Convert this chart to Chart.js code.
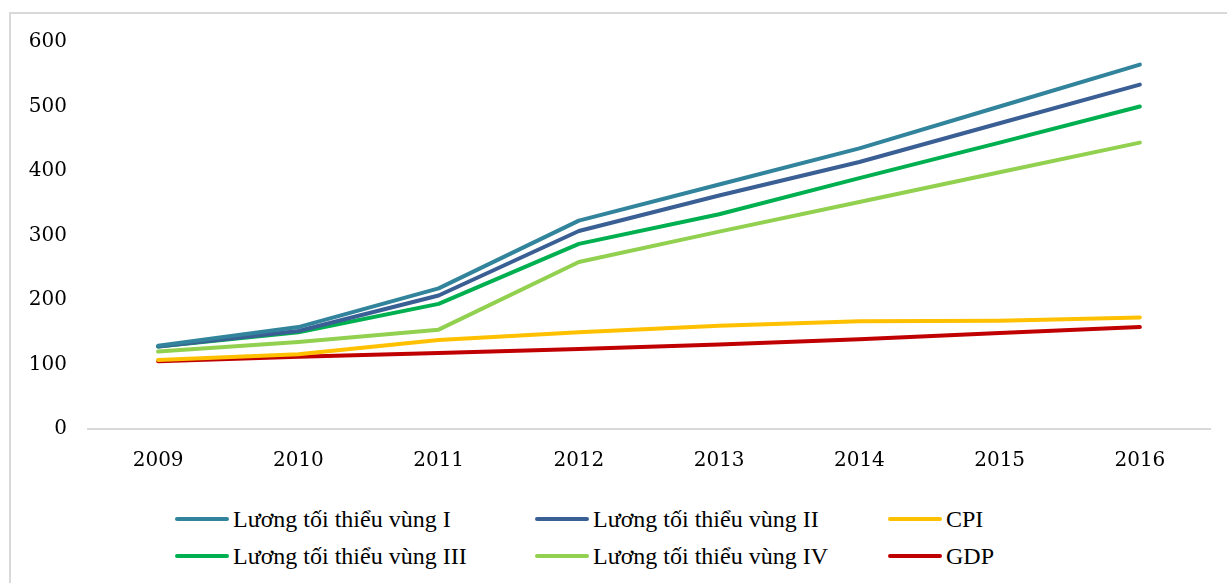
<!DOCTYPE html>
<html>
<head>
<meta charset="utf-8">
<script src="https://cdn.jsdelivr.net/npm/chart.js@4.4.0/dist/chart.umd.min.js"></script>
<style>
  html,body{margin:0;padding:0;background:#fff;}
  #wrap{position:relative;width:1227px;height:583px;overflow:hidden;}
  #frame{position:absolute;left:9px;top:12px;width:1240px;height:600px;border-left:2px solid #d9d9d9;border-top:2px solid #d9d9d9;}
  #c{position:absolute;left:0;top:0;}
  #legend{position:absolute;left:175px;top:504px;display:grid;grid-template-columns:360px 353px 200px;row-gap:7px;
    font-family:"Liberation Serif",serif;font-size:24px;color:#000;}
  .lg-item{display:flex;align-items:center;height:30px;white-space:nowrap;}
  .lg-line{display:inline-block;width:54px;height:4px;border-radius:2px;margin-right:4px;}
</style>
</head>
<body>
<div id="wrap">
  <div id="frame"></div>
  <canvas id="c" width="1227" height="480"></canvas>
  <div id="legend"></div>
</div>
<script>
// dữ liệu (chỉ số, 2008 = 100)
var years = ['2009','2010','2011','2012','2013','2014','2015','2016'];
var vung1 = [129, 158, 218, 323, 379, 435, 500, 565];
var vung2 = [128, 152, 207, 307, 362, 414, 474, 534];
var cpi   = [107, 116, 138, 150, 160, 167, 168, 173];
var vung3 = [128, 150, 194, 287, 333, 389, 444, 500];
var vung4 = [120, 135, 154, 259, 306, 352, 398, 444];
var gdp   = [105, 112, 118, 124, 131, 139, 149, 158];
var yTicks = [0, 100, 200, 300, 400, 500, 600];

var series = [
  {label:'Lương tối thiểu vùng I',   data:vung1, color:'#31849B'},
  {label:'Lương tối thiểu vùng II',  data:vung2, color:'#3A5F95'},
  {label:'CPI',                      data:cpi,   color:'#FFC000'},
  {label:'Lương tối thiểu vùng III', data:vung3, color:'#00B050'},
  {label:'Lương tối thiểu vùng IV',  data:vung4, color:'#92D050'},
  {label:'GDP',                      data:gdp,   color:'#C00000'}
];

// vẽ theo thứ tự: GDP, CPI dưới cùng
var drawOrder = {'GDP':6,'CPI':5,'Lương tối thiểu vùng IV':4,'Lương tối thiểu vùng III':3,'Lương tối thiểu vùng II':2,'Lương tối thiểu vùng I':1};

var ctx = document.getElementById('c');
var chart = new Chart(ctx,{
  type:'line',
  data:{
    labels:years,
    datasets:series.map(function(s){
      return {label:s.label,data:s.data,borderColor:s.color,backgroundColor:s.color,borderWidth:4,
        pointRadius:0,tension:0,fill:false,borderCapStyle:'round',borderJoinStyle:'round',order:drawOrder[s.label]};
    })
  },
  options:{
    responsive:false,maintainAspectRatio:false,animation:false,
    layout:{padding:{left:0,right:17,top:42,bottom:11}},
    plugins:{legend:{display:false},tooltip:{enabled:false}},
    scales:{
      x:{
        offset:true,
        grid:{display:false,drawTicks:false},
        border:{display:true,color:'#d9d9d9',width:2},
        ticks:{padding:20,color:'#000',font:{family:'DejaVu Serif',size:20}},
        afterFit:function(s){s.height=40;}
      },
      y:{
        min:0,max:600,
        grid:{display:false,drawTicks:false},
        border:{display:false},
        afterBuildTicks:function(s){s.ticks=yTicks.map(function(v){return {value:v};});},
        ticks:{padding:21,color:'#000',font:{family:'DejaVu Serif',size:20}},
        afterFit:function(s){s.width=88;}
      }
    }
  }
});

// chú thích dạng lưới 3 cột
var lg = document.getElementById('legend');
lg.innerHTML = series.map(function(s){
  return '<div class="lg-item"><span class="lg-line" style="background:'+s.color+'"></span><span>'+s.label+'</span></div>';
}).join('');
</script>
</body>
</html>
